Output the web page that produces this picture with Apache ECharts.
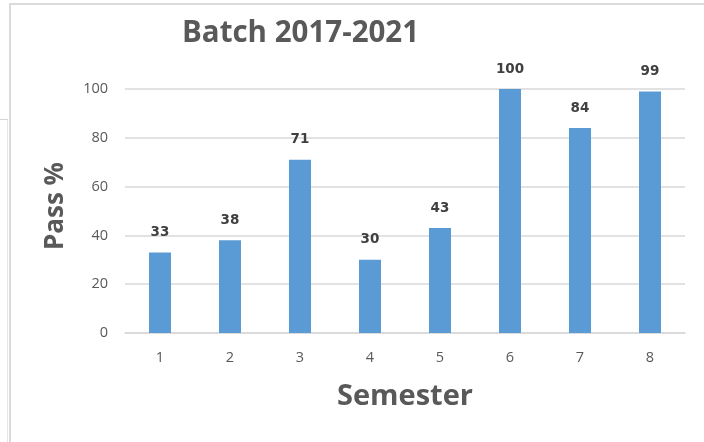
<!DOCTYPE html>
<html>
<head>
<meta charset="utf-8">
<title>Batch 2017-2021</title>
<script src="https://cdn.jsdelivr.net/npm/echarts@6/dist/echarts.min.js"></script>
<style>
  html, body { margin: 0; padding: 0; background: #ffffff; }
  #chart { width: 704px; height: 442px; }
</style>
</head>
<body>
<div id="chart"></div>
<script>
// Pass percentage per semester for the 2017-2021 batch
const semesters = ['1', '2', '3', '4', '5', '6', '7', '8'];
const passPercent = [33, 38, 71, 30, 43, 100, 84, 99];
const yTicks = [0, 20, 40, 60, 80, 100];

const headingFont = '"Open Sans", "Noto Sans", sans-serif';
const gridColor = '#d9d9d9';
const textGray = '#595959';

const chart = echarts.init(document.getElementById('chart'), null, { renderer: 'canvas' });

chart.setOption({
  backgroundColor: '#ffffff',
  animation: false,
  title: {
    text: 'Batch 2017-2021',
    left: 177,
    top: 14,
    textStyle: {
      fontFamily: headingFont,
      fontWeight: 'bold',
      fontSize: 29.5,
      color: textGray
    }
  },
  graphic: [
    // window frame edges
    { type: 'line', shape: { x1: 9, y1: 4, x2: 704, y2: 4 }, style: { stroke: '#dadada', lineWidth: 2 }, silent: true },
    { type: 'line', shape: { x1: 10, y1: 4, x2: 10, y2: 442 }, style: { stroke: '#dadada', lineWidth: 2 }, silent: true },
    { type: 'line', shape: { x1: 0, y1: 119.5, x2: 8, y2: 119.5 }, style: { stroke: '#d4d4d4', lineWidth: 1 }, silent: true },
    { type: 'line', shape: { x1: 7.5, y1: 119.5, x2: 7.5, y2: 442 }, style: { stroke: '#e6e6e6', lineWidth: 1 }, silent: true }
  ],
  grid: {
    left: 125,
    top: 89,
    width: 560,
    height: 244
  },
  xAxis: {
    type: 'category',
    data: semesters,
    name: 'Semester',
    nameLocation: 'middle',
    nameGap: 64,
    nameTextStyle: {
      fontFamily: headingFont,
      fontWeight: 'bold',
      fontSize: 29,
      color: textGray,
      verticalAlign: 'middle'
    },
    axisLine: { show: true, lineStyle: { color: gridColor, width: 1.5 } },
    axisTick: { show: false },
    axisLabel: {
      margin: 17,
      fontFamily: headingFont,
      fontSize: 14.5,
      color: textGray
    }
  },
  yAxis: {
    type: 'value',
    min: yTicks[0],
    max: yTicks[yTicks.length - 1],
    interval: yTicks[1] - yTicks[0],
    name: 'Pass %',
    nameLocation: 'middle',
    nameGap: 69,
    nameTextStyle: {
      fontFamily: headingFont,
      fontWeight: 'bold',
      fontSize: 26,
      color: textGray,
      verticalAlign: 'middle',
      padding: [0, 0, 0, 10]
    },
    axisLine: { show: false },
    axisTick: { show: false },
    splitLine: { show: true, lineStyle: { color: gridColor, width: 1.5 } },
    axisLabel: {
      margin: 17,
      fontFamily: headingFont,
      fontSize: 14.5,
      color: textGray
    }
  },
  series: [{
    type: 'bar',
    data: passPercent,
    barWidth: 22,
    itemStyle: { color: '#5b9bd5' },
    label: {
      show: true,
      position: 'top',
      distance: 13,
      fontFamily: '"DejaVu Sans", sans-serif',
      fontWeight: 'bold',
      fontSize: 13.5,
      color: '#404040'
    }
  }]
});
</script>
</body>
</html>
